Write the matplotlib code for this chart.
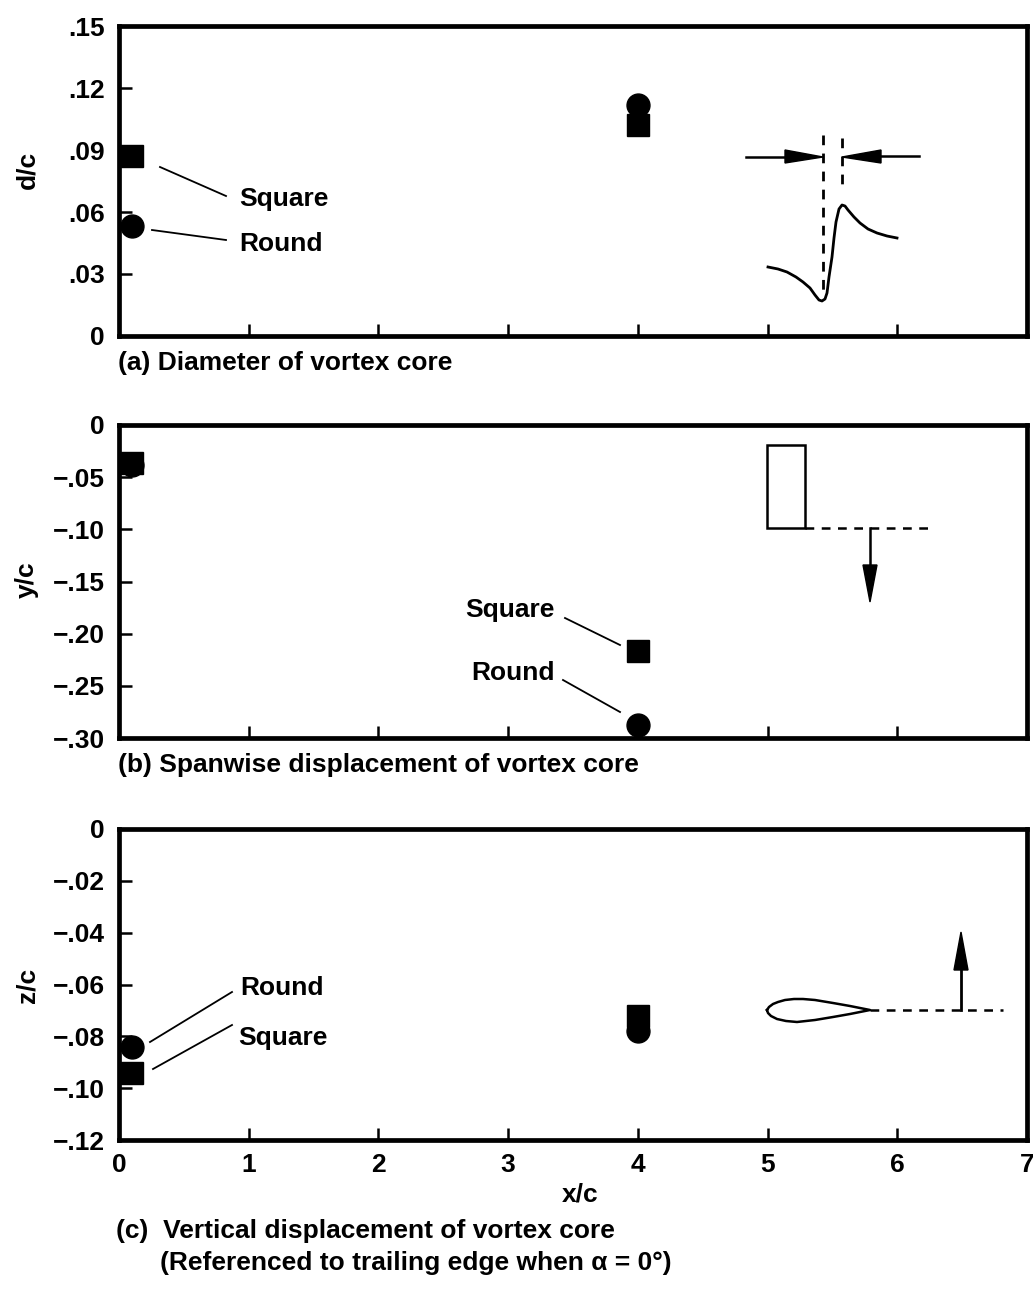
import matplotlib
matplotlib.use("Agg")
import matplotlib.pyplot as plt
from matplotlib.patches import Polygon, Rectangle

plt.rcParams['font.family'] = ['Liberation Sans', 'DejaVu Sans']
plt.rcParams['font.weight'] = 'bold'

W, H = 1033, 1289
FS = 19

x_ticks = [0, 1, 2, 3, 4, 5, 6, 7]
x_stations = [0.1, 4.0]

# panel a
d_square = [0.087, 0.102]
d_round = [0.053, 0.112]
d_ticks = [0, .03, .06, .09, .12, .15]
d_labels = ['0', '.03', '.06', '.09', '.12', '.15']
# panel b
y_square = [-0.036, -0.217]
y_round = [-0.038, -0.288]
y_ticks = [0, -.05, -.10, -.15, -.20, -.25, -.30]
y_labels = ['0', '\u2212.05', '\u2212.10', '\u2212.15', '\u2212.20', '\u2212.25', '\u2212.30']
# panel c
z_square = [-0.094, -0.072]
z_round = [-0.084, -0.078]
z_ticks = [0, -.02, -.04, -.06, -.08, -.10, -.12]
z_labels = ['0', '\u2212.02', '\u2212.04', '\u2212.06', '\u2212.08', '\u2212.10', '\u2212.12']

# sketch outlines, in picture pixels
wake_x = [768, 778, 787, 796, 803, 810, 815, 819, 822, 825, 827, 829, 832, 834, 836, 839, 842, 845, 848, 854, 860, 868, 877, 887, 897]
wake_y = [267, 269, 272, 277, 282, 288, 295, 300, 301, 299, 293, 277, 257, 238, 222, 209, 205, 206, 210, 217, 223, 229, 233, 236, 238]
foil_x = [767, 769, 773, 778, 785, 794, 803, 815, 833, 850, 870, 850, 833, 815, 797, 786, 777, 771, 768, 767]
foil_y = [1010, 1007, 1004, 1002, 1000, 999, 999, 1000, 1003, 1006, 1010, 1014, 1017, 1020, 1022, 1021, 1019, 1016, 1013, 1010]


def to_fig_rect(left, top, right, bottom):
    return [left / W, 1 - bottom / H, (right - left) / W, (bottom - top) / H]


def make_panel(fig, top, bottom, ylim, yticks, ylabels, ylab, ylab_y, s_vals, r_vals, show_x=False):
    ax = fig.add_axes(to_fig_rect(119, top, 1027, bottom))
    ax.set_xlim(0, 7)
    ax.set_ylim(*ylim)
    ax.set_yticks(yticks)
    ax.set_yticklabels(ylabels)
    ax.set_xticks(x_ticks)
    ax.tick_params(direction='in', length=9, width=1.8, labelsize=FS, pad=10)
    ax.tick_params(axis='x', labelbottom=show_x, pad=9)
    for sp in ax.spines.values():
        sp.set_linewidth(3.4)
    ax.plot(x_stations, s_vals, ls='none', marker='s', ms=16.5, color='black', clip_on=False, zorder=5)
    ax.plot(x_stations, r_vals, ls='none', marker='o', ms=16.5, color='black', clip_on=False, zorder=5)
    fig.text(27 / W, 1 - ylab_y / H, ylab, rotation=90, ha='center', va='center', fontsize=FS)
    return ax


fig = plt.figure(figsize=(W / 100, H / 100), dpi=100)
make_panel(fig, 26, 336, (0, .15), d_ticks, d_labels, 'd/c', 170, d_square, d_round)
make_panel(fig, 425, 738, (-.30, 0), y_ticks, y_labels, 'y/c', 580, y_square, y_round)
make_panel(fig, 829, 1140, (-.12, 0), z_ticks, z_labels, 'z/c', 985, z_square, z_round, show_x=True)

# overlay in pixels for the hand drawn sketches, leaders and captions
ov = fig.add_axes([0, 0, 1, 1], facecolor='none')
ov.set_xlim(0, W)
ov.set_ylim(H, 0)
ov.axis('off')

leaders = [
    (160, 167, 226, 196), (152, 230, 226, 240),
    (565, 618, 620, 645), (563, 680, 620, 712),
    (150, 1042, 232, 992), (153, 1069, 232, 1025),
]
for x0, y0, x1, y1 in leaders:
    ov.plot([x0, x1], [y0, y1], color='black', lw=1.3)

labels = [
    ('Square', 239, 199), ('Round', 239, 244),
    ('Square', 465, 610), ('Round', 471, 673),
    ('Round', 240, 988), ('Square', 238, 1038),
    ('(a) Diameter of vortex core', 118, 363),
    ('(b) Spanwise displacement of vortex core', 118, 765),
    ('(c)  Vertical displacement of vortex core', 116, 1231),
    ('(Referenced to trailing edge when \u03b1 = 0\u00b0)', 160, 1263),
]
for txt, x, y in labels:
    ov.text(x, y, txt, ha='left', va='center', fontsize=FS)
ov.text(580, 1195, 'x/c', ha='center', va='center', fontsize=FS)

# core diameter sketch
ov.plot(wake_x, wake_y, color='black', lw=2)
ov.plot([823, 823], [135, 290], color='black', lw=2, dashes=(3.5, 3))
ov.plot([842, 842], [138, 185], color='black', lw=2, dashes=(3.5, 3))
ov.plot([746, 785], [157, 157], color='black', lw=1.8)
ov.plot([880, 919], [156, 156], color='black', lw=1.8)
ov.add_patch(Polygon([(785, 150), (785, 163), (823, 157)], color='black'))
ov.add_patch(Polygon([(881, 150), (881, 163), (842, 157)], color='black'))

# planform sketch
ov.add_patch(Rectangle((767, 445), 38, 83, fill=False, ec='black', lw=1.8))
ov.plot([805, 935], [528, 528], color='black', lw=1.8, dashes=(3.5, 3))
ov.plot([870, 870], [528, 565], color='black', lw=1.8)
ov.add_patch(Polygon([(863, 565), (877, 565), (870, 602)], color='black'))

# airfoil sketch
ov.plot(foil_x, foil_y, color='black', lw=1.8)
ov.plot([870, 1003], [1010, 1010], color='black', lw=1.8, dashes=(3.5, 3))
ov.plot([961, 961], [1010, 970], color='black', lw=2)
ov.add_patch(Polygon([(954, 970), (968, 970), (961, 932)], color='black'))

fig.savefig('out.png', dpi=100)
